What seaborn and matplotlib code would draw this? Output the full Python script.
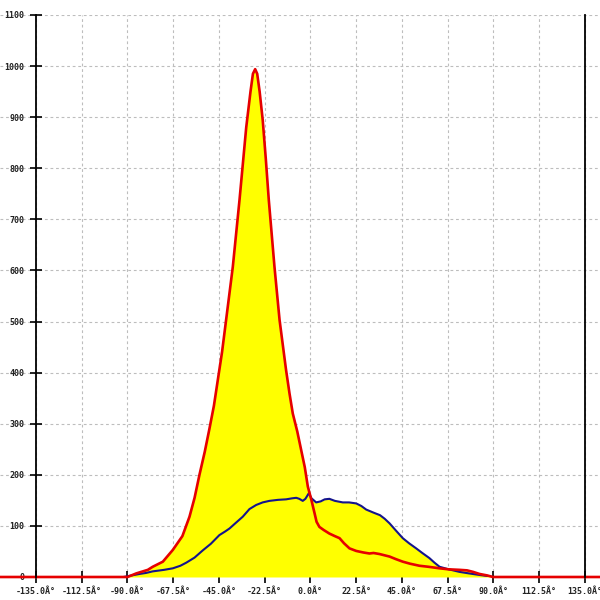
import numpy as np
import pandas as pd
import matplotlib
matplotlib.use("Agg")
import matplotlib.pyplot as plt
import seaborn as sns

# ---- data ----
red_x = [-160, -90, -85.7, -80, -77.6, -72.6, -67.7, -63, -59.5, -57, -54.6, -52, -49.7,
         -47.5, -45.6, -43.5, -41.5, -38.2, -34.9, -31.6, -29.5, -28.3, -27.2, -26.2,
         -25.0, -23.5, -22, -20.5, -17.7, -15.2, -12.0, -10.3, -8.7, -6.5, -4.6, -2.8,
         -1.3, 0.5, 2.0, 3.0, 4.4, 6.5, 9.3, 12, 14.3, 16.5, 19.2, 22.5, 26, 29.0, 31,
         33.9, 38.9, 42, 45.4, 49, 53.6, 58, 63.5, 68, 73.3, 77, 80, 83.1, 87, 89.7, 150]
red_y = [0, 0, 7, 14, 20, 30, 53, 80, 118, 155, 200, 245, 290,
         335, 385, 440, 503, 607, 738, 880, 950, 985, 994, 985,
         950, 895, 820, 738, 607, 503, 405, 359, 320, 285, 249, 215,
         177, 150, 125, 108, 98, 92, 85, 80, 76, 66, 56, 51, 48, 46, 47,
         45, 40, 35, 30, 26, 22, 20, 17, 15, 14, 13, 10, 6, 3, 0, 0]

blue_x = [-92, -84, -80.8, -77.6, -72, -67.7, -64, -61.1, -57, -53, -49, -44.8, -42,
          -39.8, -37, -33.3, -30, -26.7, -23.5, -20.2, -16, -12.0, -9, -7.0, -5.5,
          -3.8, -2.5, -0.8, 0.5, 2.8, 5, 7, 9.3, 12, 15.9, 19, 22.5, 25, 27.4, 31,
          34.2, 36.5, 38.9, 42, 45.4, 48.5, 52, 55, 58.5, 61, 63.5, 68, 73.3, 78,
          83.1, 87, 89.7]
blue_y = [0, 6, 8, 11, 14, 17, 22, 28, 38, 52, 65, 82, 89,
          95, 105, 118, 133, 141, 146, 149, 151, 152, 154, 155, 153,
          149, 153, 164, 154, 146, 148, 152, 153, 149, 146, 146, 144, 139, 132, 126,
          121, 114, 105, 91, 76, 66, 56, 47, 37, 28, 20, 15, 10, 7,
          4, 2, 0]

x_ticks = [-135.0, -112.5, -90.0, -67.5, -45.0, -22.5, 0.0, 22.5, 45.0, 67.5, 90.0, 112.5, 135.0]
x_tick_labels = [f"{v:.1f}\u00c2\u00b0" for v in x_ticks]
y_ticks = list(range(0, 1101, 100))

# ---- plot ----
sns.set_style("white")
plt.rcParams['font.family'] = ['DejaVu Sans Mono', 'DejaVu Sans']

fig = plt.figure(figsize=(6, 6), dpi=100)
ax = fig.add_axes([0, 23 / 600, 1, 562 / 600])
ax.set_xlim(-152.7, 142.4)
ax.set_ylim(0, 1100)

red_df = pd.DataFrame({"x": red_x, "y": red_y})
blue_df = pd.DataFrame({"x": blue_x, "y": blue_y})

ax.fill_between(red_df["x"], 0, red_df["y"], color="#ffff00", zorder=1, linewidth=0)
ax.fill_between(blue_df["x"], 0, blue_df["y"], color="#ffff00", zorder=1, linewidth=0)

sns.lineplot(data=blue_df, x="x", y="y", ax=ax, color="#14148c", linewidth=1.5,
             sort=False, estimator=None, zorder=3)
sns.lineplot(data=red_df, x="x", y="y", ax=ax, color="#e60000", linewidth=1.9,
             sort=False, estimator=None, zorder=4, clip_on=False)

ax.set_xlabel("")
ax.set_ylabel("")

ax.set_xticks(x_ticks)
ax.set_xticklabels(x_tick_labels)
ax.set_yticks(y_ticks)
ax.set_yticklabels([str(v) for v in y_ticks])

ax.grid(True, color="#bdbdbd", linestyle=(0, (2.5, 2.5)), linewidth=0.8, zorder=0)
ax.set_axisbelow(True)

for s in ["top", "bottom"]:
    ax.spines[s].set_visible(False)
ax.spines["left"].set_position(("data", -135))
ax.spines["right"].set_position(("data", 135))
for s in ["left", "right"]:
    ax.spines[s].set_color("black")
    ax.spines[s].set_linewidth(1.3)
    ax.spines[s].set_zorder(5)

ax.tick_params(axis="x", direction="inout", length=9, width=1.2, color="black",
               labelsize=6, pad=3, bottom=True)
ax.tick_params(axis="y", direction="inout", length=9, width=1.2, color="black",
               labelsize=6, pad=4, left=True, right=False)
for lab in ax.get_xticklabels() + ax.get_yticklabels():
    lab.set_fontweight("bold")
    lab.set_color("#222222")

fig.savefig("out.png", dpi=100, facecolor="white")
